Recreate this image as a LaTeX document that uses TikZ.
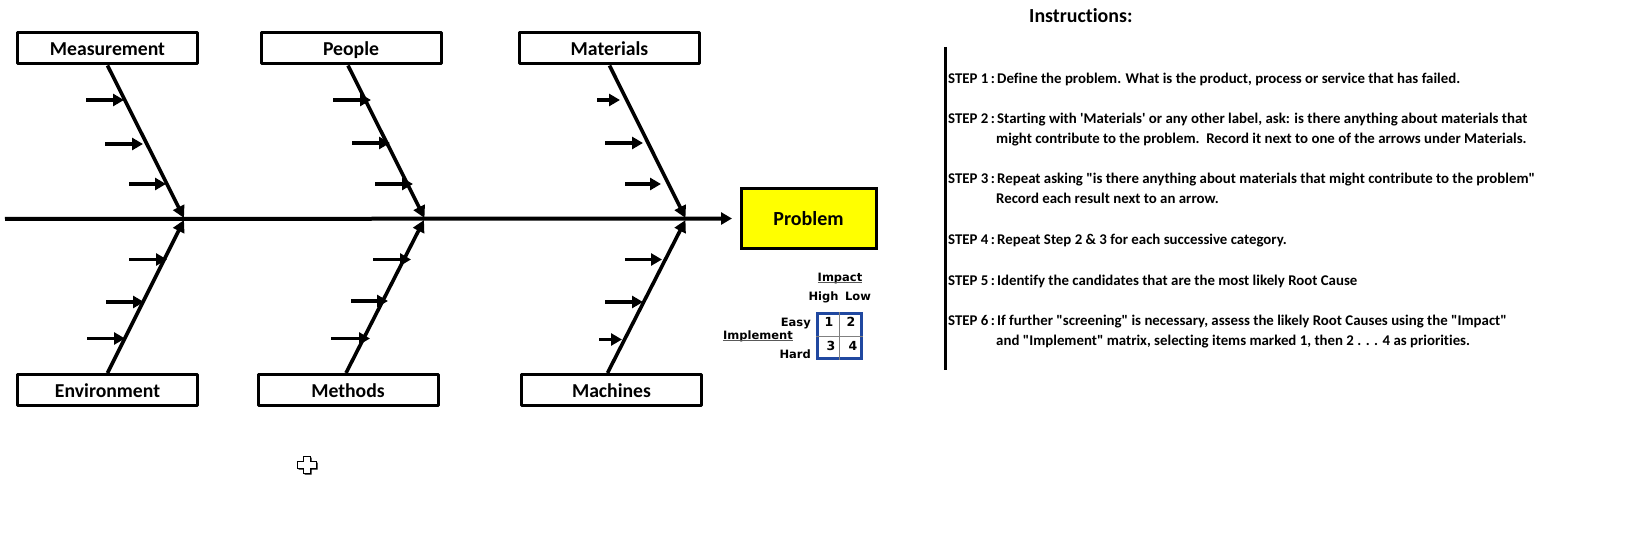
\documentclass[tikz,border=0pt]{standalone}
\usepackage{fontspec}
\setmainfont{Carlito}[Ligatures={TeXOff,CommonOff}]
\newfontfamily\gridfont{DejaVu Sans}
\usetikzlibrary{arrows.meta}
\definecolor{gridblue}{RGB}{32,72,160}
\definecolor{problemyellow}{RGB}{255,255,0}
\newcommand\steplabel[1]{\makebox[49pt][l]{STEP #1\hspace{2.5pt}:}}
\tikzset{
  catbox/.style={draw,line width=3pt,line join=round,minimum width=180pt,minimum height=31pt,inner sep=0pt,text height=15pt,text depth=0pt,font=\fontsize{19.7}{19.7}\selectfont\bfseries},
  bone/.style={line width=3.6pt,-{Triangle[length=12pt,width=12pt]}},
  twig/.style={line width=3.6pt,-{Triangle[length=11pt,width=12pt]}},
  steptext/.style={anchor=base west,inner sep=0pt,font=\fontsize{14.85}{14.85}\selectfont\bfseries},
  gridlabel/.style={anchor=base,inner sep=0pt,font=\gridfont\fontsize{11.5}{11.5}\selectfont\bfseries},
  gridnum/.style={anchor=base,inner sep=0pt,font=\gridfont\fontsize{12.5}{12.5}\selectfont\bfseries},
  underrule/.style={gray!70!black,line width=1.2pt},
}
\begin{document}
\begin{tikzpicture}[x=1pt,y=-1pt]
        \useasboundingbox (0,0) rectangle (1628,556);

        % category boxes
        \node[catbox](measurement)at(107.5,48.5){Measurement};
        \node[catbox](people)at(351,48.5){People};
        \node[catbox](materials)at(609.5,48.5){Materials};
        \node[catbox](environment)at(107.5,390){Environment};
        \node[catbox](methods)at(348,390){Methods};
        \node[catbox](machines)at(611.5,390){Machines};
        \node[draw,line width=3pt,fill=problemyellow,minimum width=135pt,minimum height=60pt,inner sep=0pt,font=\fontsize{20}{20}\selectfont\bfseries](problem)at(808.5,218.5){Problem};

        % spine
        \coordinate(tail)at(5,219);
        \draw[line width=4pt,-{Triangle[length=11pt,width=12pt]},shorten >=7.5pt](tail)--(problem.west);

        % bones, meeting the spine
        \coordinate(jointa)at(184,218);
        \coordinate(jointb)at(424.5,218);
        \coordinate(jointc)at(685.5,218);
        \coordinate(jointd)at(184,220);
        \coordinate(jointe)at(424,220);
        \coordinate(jointf)at(685.5,220);
        \draw[bone](measurement.south)--(jointa);
        \draw[bone]([xshift=-3pt]people.south)--(jointb);
        \draw[bone](materials.south)--(jointc);
        \draw[bone](environment.north)--(jointd);
        \draw[bone]([xshift=-2pt]methods.north)--(jointe);
        \draw[bone]([xshift=-4pt]machines.north)--(jointf);

        % small arrows on the bones
        \foreach \n/\xa/\xb/\yy in {
            a/86/124/100,b/105/143/144,c/129/166/184,
            d/333/371/100,e/352/390/143,f/375/413/184,
            g/597/620/100,h/605/643/143,i/625/661/184,
            j/129/167/259.5,k/106/144/302,l/87/125/338.5,
            m/373/411/259.5,n/351/388/301,o/331/370/338.5,
            p/625/662/259.5,q/605/643/302,r/599/622/339.5}{
            \coordinate(from\n)at(\xa,\yy);
            \coordinate(to\n)at(\xb,\yy);
            \draw[twig](from\n)--(to\n);
        }

        % impact/implement grid
        \node[draw=gridblue,line width=2.2pt,minimum width=44pt,minimum height=45pt,inner sep=0pt](grid)at(839.5,336){};
        \draw[gray,line width=1pt](grid.north)--(grid.south);
        \draw[gray,line width=1pt](grid.west)--(grid.east);
        \node[gridnum](one)at(829,326.5){1};
        \node[gridnum](two)at(851,326.5){2};
        \node[gridnum](three)at(831,350){3};
        \node[gridnum](four)at(853,350){4};
        \node[gridlabel](impact)at(840,281){Impact};
        \node[gridlabel](high)at(823.5,300.5){High};
        \node[gridlabel](low)at(858,300.5){Low};
        \node[gridlabel,anchor=base east](easy)at(811,326){Easy};
        \node[gridlabel,anchor=base east](hard)at(811,358){Hard};
        \node[gridlabel](implement)at(758,339){Implement};
        \draw[underrule]([yshift=-1.5pt]impact.base west)--([yshift=-1.5pt]impact.base east);
        \draw[underrule]([yshift=-1.5pt]implement.base west)--([yshift=-1.5pt]implement.base east);

        % instructions
        \node[anchor=base west,inner sep=0pt,font=\fontsize{19.9}{19.9}\selectfont\bfseries](instructions)at(1029,23){Instructions:};
        \coordinate(ruletop)at(945,47);
        \coordinate(rulebottom)at(945,370);
        \draw[line width=3pt](ruletop)--(rulebottom);
        \node[steptext](stepone)at(948,83.5){\steplabel{1}Define the problem. What is the product, process or service that has failed.};
        \node[steptext](steptwo)at(948,123.5){\steplabel{2}Starting with 'Materials' or any other label, ask: is there anything about materials that};
        \node[steptext](steptwob)at(996,143.5){might contribute to the problem.\ \ Record it next to one of the arrows under Materials.};
        \node[steptext](stepthree)at(948,183.5){\steplabel{3}Repeat asking "is there anything about materials that might contribute to the problem"};
        \node[steptext](stepthreeb)at(996,203.5){Record each result next to an arrow.};
        \node[steptext](stepfour)at(948,244.5){\steplabel{4}Repeat Step 2 \& 3 for each successive category.};
        \node[steptext](stepfive)at(948,285.5){\steplabel{5}Identify the candidates that are the most likely Root Cause};
        \node[steptext](stepsix)at(948,325.5){\steplabel{6}If further "screening" is necessary, assess the likely Root Causes using the "Impact"};
        \node[steptext](stepsixb)at(996,345.5){and "Implement" matrix, selecting items marked 1, then 2 . . . 4 as priorities.};

        % cross shaped pointer
        \fill[black,shift={(1.5,1.5)}](303,456)--(310,456)--(310,461)--(316,461)--(316,468)--(310,468)--(310,473)--(303,473)--(303,468)--(297,468)--(297,461)--(303,461)--cycle;
        \draw[fill=white,line width=1pt](303,456)--(310,456)--(310,461)--(316,461)--(316,468)--(310,468)--(310,473)--(303,473)--(303,468)--(297,468)--(297,461)--(303,461)--cycle;
    \end{tikzpicture}
\end{document}
